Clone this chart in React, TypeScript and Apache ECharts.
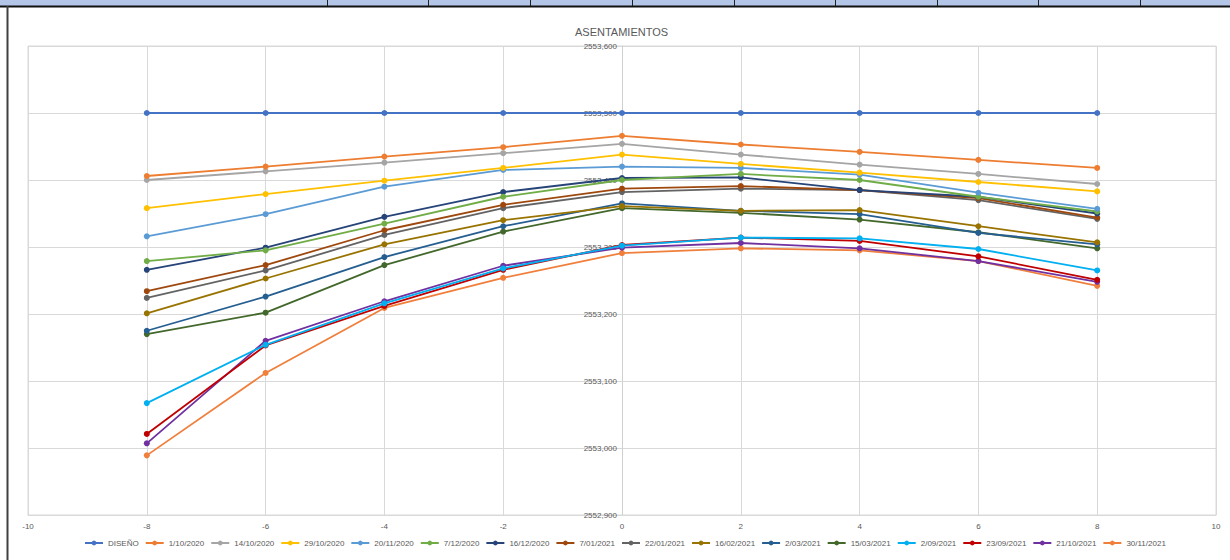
import React, { useEffect, useRef } from "react";
import * as echarts from "echarts";

const xValues = [-8, -6, -4, -2, 0, 2, 4, 6, 8];

const seriesNames = [
  "DISEÑO",
  "1/10/2020",
  "14/10/2020",
  "29/10/2020",
  "20/11/2020",
  "7/12/2020",
  "16/12/2020",
  "7/01/2021",
  "22/01/2021",
  "16/02/2021",
  "2/03/2021",
  "15/03/2021",
  "2/09/2021",
  "23/09/2021",
  "21/10/2021",
  "30/11/2021",
];

const seriesColors = [
  "#4472C4",
  "#ED7D31",
  "#A5A5A5",
  "#FFC000",
  "#5B9BD5",
  "#70AD47",
  "#264478",
  "#9E480E",
  "#636363",
  "#997300",
  "#255E91",
  "#43682B",
  "#00B0F0",
  "#C00000",
  "#7030A0",
  "#F07F3C",
];

const diseno = [2553.5, 2553.5, 2553.5, 2553.5, 2553.5, 2553.5, 2553.5, 2553.5, 2553.5];
const s01_10_2020 = [2553.406, 2553.42, 2553.435, 2553.449, 2553.466, 2553.453, 2553.442, 2553.43, 2553.418];
const s14_10_2020 = [2553.4, 2553.413, 2553.426, 2553.44, 2553.454, 2553.438, 2553.423, 2553.409, 2553.394];
const s29_10_2020 = [2553.358, 2553.379, 2553.399, 2553.418, 2553.438, 2553.424, 2553.411, 2553.397, 2553.383];
const s20_11_2020 = [2553.316, 2553.349, 2553.39, 2553.415, 2553.42, 2553.418, 2553.408, 2553.381, 2553.357];
const s07_12_2020 = [2553.279, 2553.295, 2553.335, 2553.375, 2553.4, 2553.409, 2553.4, 2553.375, 2553.353];
const s16_12_2020 = [2553.266, 2553.299, 2553.345, 2553.382, 2553.403, 2553.404, 2553.385, 2553.375, 2553.35];
const s07_01_2021 = [2553.234, 2553.273, 2553.325, 2553.363, 2553.387, 2553.391, 2553.385, 2553.373, 2553.344];
const s22_01_2021 = [2553.224, 2553.265, 2553.318, 2553.358, 2553.382, 2553.387, 2553.385, 2553.37, 2553.342];
const s16_02_2021 = [2553.201, 2553.253, 2553.304, 2553.34, 2553.361, 2553.354, 2553.355, 2553.331, 2553.307];
const s02_03_2021 = [2553.175, 2553.226, 2553.285, 2553.331, 2553.365, 2553.354, 2553.349, 2553.321, 2553.304];
const s15_03_2021 = [2553.17, 2553.202, 2553.273, 2553.323, 2553.358, 2553.351, 2553.341, 2553.322, 2553.298];
const s02_09_2021 = [2553.067, 2553.154, 2553.216, 2553.268, 2553.302, 2553.314, 2553.313, 2553.297, 2553.265];
const s23_09_2021 = [2553.021, 2553.153, 2553.212, 2553.266, 2553.303, 2553.314, 2553.309, 2553.286, 2553.251];
const s21_10_2021 = [2553.007, 2553.16, 2553.219, 2553.272, 2553.299, 2553.306, 2553.298, 2553.279, 2553.248];
const s30_11_2021 = [2552.989, 2553.112, 2553.209, 2553.254, 2553.291, 2553.298, 2553.295, 2553.279, 2553.242];

const allValues = [
  diseno,
  s01_10_2020,
  s14_10_2020,
  s29_10_2020,
  s20_11_2020,
  s07_12_2020,
  s16_12_2020,
  s07_01_2021,
  s22_01_2021,
  s16_02_2021,
  s02_03_2021,
  s15_03_2021,
  s02_09_2021,
  s23_09_2021,
  s21_10_2021,
  s30_11_2021,
];

const tableDividers = [327, 428, 530, 632, 734, 835, 937, 1038, 1140];

const FONT = "'Liberation Sans Narrow', 'Liberation Sans', Arial, sans-serif";

const GRID_LEFT = 28;
const GRID_RIGHT = 14;
const CHART_W = 1230;

export default function App() {
  const ref = useRef<HTMLDivElement>(null);

  useEffect(() => {
    if (!ref.current) return;
    const chart = echarts.init(ref.current, undefined, { renderer: "svg" });

    const series = seriesNames.map((name, i) => ({
      name,
      type: "line",
      data: xValues.map((x, j) => [x, allValues[i][j]]),
      symbol: "circle",
      symbolSize: 6,
      color: seriesColors[i],
      lineStyle: { width: 1.8, color: seriesColors[i] },
      itemStyle: { color: seriesColors[i] },
      z: 2 + (seriesNames.length - i),
    }));

    const graphic: any[] = [
      {
        type: "rect",
        shape: { x: 0, y: 0, width: 1230, height: 6 },
        style: { fill: "#B4C6E7" },
        silent: true,
      },
      ...tableDividers.map((x) => ({
        type: "line",
        shape: { x1: x + 0.5, y1: 0, x2: x + 0.5, y2: 6 },
        style: { stroke: "#222", lineWidth: 1 },
        silent: true,
      })),
      {
        type: "line",
        shape: { x1: 0, y1: 6.5, x2: 1230, y2: 6.5 },
        style: { stroke: "#111", lineWidth: 2 },
        silent: true,
      },
      {
        type: "line",
        shape: { x1: 7.5, y1: 6, x2: 7.5, y2: 560 },
        style: { stroke: "#404040", lineWidth: 2 },
        silent: true,
      },
    ];

    const plotW = CHART_W - GRID_LEFT - GRID_RIGHT;

    chart.setOption({
      animation: false,
      backgroundColor: "#ffffff",
      title: {
        text: "ASENTAMIENTOS",
        left: 570,
        top: 21,
        textStyle: {
          color: "#595959",
          fontWeight: "normal",
          fontSize: 11,
          fontFamily: FONT,
        },
      },
      graphic,
      grid: {
        left: GRID_LEFT,
        right: GRID_RIGHT,
        top: 46,
        bottom: 45,
        show: true,
        borderColor: "#d9d9d9",
        borderWidth: 1,
        backgroundColor: "transparent",
        containLabel: false,
        outerBoundsMode: "none",
      },
      legend: {
        bottom: 8,
        left: 79,
        itemWidth: 18,
        itemHeight: 6,
        itemGap: 6,
        textStyle: { color: "#595959", fontSize: 8, fontFamily: FONT },
        data: seriesNames,
      },
      xAxis: {
        type: "value",
        min: -10,
        max: 10,
        interval: 2,
        axisLine: { onZero: false, lineStyle: { color: "#d9d9d9" } },
        axisTick: { show: false },
        splitLine: { show: true, lineStyle: { color: "#d9d9d9", width: 1 } },
        axisLabel: { color: "#595959", fontSize: 8, fontFamily: FONT, margin: 7 },
      },
      yAxis: {
        type: "value",
        min: 2552.9,
        max: 2553.6,
        interval: 0.1,
        position: "left",
        offset: -plotW / 2,
        axisLine: { show: true, onZero: false, lineStyle: { color: "#d0d0d0" } },
        axisTick: { show: false },
        splitLine: { show: true, lineStyle: { color: "#d9d9d9", width: 1 } },
        axisLabel: {
          color: "#595959",
          fontSize: 8,
          fontFamily: FONT,
          margin: 5,
          formatter: (v: number) => v.toFixed(3).replace(".", ","),
        },
      },
      series,
    });

    return () => chart.dispose();
  }, []);

  return (
    <div
      ref={ref}
      style={{ position: "fixed", left: 0, top: 0, width: 1230, height: 560 }}
    />
  );
}
